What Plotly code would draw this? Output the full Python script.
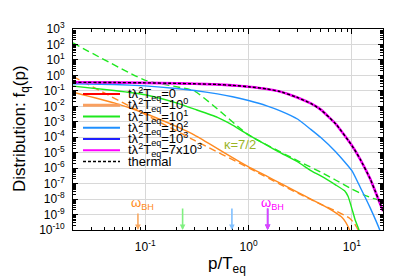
import math
import plotly.graph_objects as go

# ---------------- data ----------------
p_thermal = [0.02, 0.05, 0.1, 0.2, 0.3, 0.5, 0.7, 1, 1.5, 2, 3, 4, 5, 7, 10, 12, 15, 20]
f_thermal = [0.357, 0.345, 0.33, 0.305, 0.285, 0.26, 0.225, 0.185, 0.133, 0.092, 0.0362,
             0.0153, 6.1e-3, 7.1e-4, 2.92e-5, 3.9e-6, 2.1e-7, 1.7e-9]
# t=0, 10^3 and 7x10^3 lie on top of the thermal curve
f_t0 = [0.357, 0.345, 0.33, 0.305, 0.285, 0.26, 0.225, 0.185, 0.133, 0.092, 0.0362,
        0.0153, 6.1e-3, 7.1e-4, 2.92e-5, 3.9e-6, 2.1e-7, 1.7e-9]
f_t1e3 = [0.357, 0.345, 0.33, 0.305, 0.285, 0.26, 0.225, 0.185, 0.133, 0.092, 0.0362,
          0.0153, 6.1e-3, 7.1e-4, 2.92e-5, 3.9e-6, 2.1e-7, 1.7e-9]
f_t7e3 = [0.357, 0.345, 0.33, 0.305, 0.285, 0.26, 0.225, 0.185, 0.133, 0.092, 0.0362,
          0.0153, 6.1e-3, 7.1e-4, 2.92e-5, 3.9e-6, 2.1e-7, 1.7e-9]

p_t1e0 = [0.02, 0.05, 0.1, 0.2, 0.3, 0.5, 0.7, 1, 1.5, 2, 3, 4, 5, 6, 7, 8, 8.7, 9.3, 9.6]
f_t1e0 = [0.0818, 0.0165, 3.42e-3, 4.96e-4, 1.37e-4, 1.85e-5, 4.75e-6, 1.19e-6, 3.05e-7,
          1.10e-7, 2.76e-8, 1.01e-8, 4.75e-9, 2.43e-9, 1.28e-9, 6.7e-10, 3.28e-10, 1.39e-10, 8.4e-11]
p_t1e0_fit = [0.02, 0.1, 0.3, 1, 2, 3, 4, 5, 7, 8.7, 9.5, 10.5, 11.2, 11.7]
f_t1e0_fit = [0.841, 2.97e-3, 6.24e-5, 1.06e-6, 9.3e-8, 2.39e-8, 9.4e-9, 4.62e-9, 1.70e-9,
              8.3e-10, 5.8e-10, 2.84e-10, 1.39e-10, 8.4e-11]

p_t1e1 = [0.02, 0.05, 0.1, 0.2, 0.3, 0.5, 0.7, 1, 1.5, 2, 3, 4, 5, 7, 8.5, 9.2, 10, 10.8, 11.6, 12]
f_t1e1 = [0.201, 0.106, 0.0556, 0.0165, 6.51e-3, 1.93e-3, 6.15e-4, 1.41e-4, 3.05e-5, 1.04e-5,
          2.50e-6, 6.9e-7, 3.14e-7, 8.07e-8, 3.42e-8, 1.45e-8, 2.43e-9, 4.06e-10, 1.2e-10, 5.9e-11]
p_t1e1_fit = [0.02, 0.1, 0.3, 1, 3, 5, 7, 10, 13, 16, 20]
f_t1e1_fit = [125.0, 0.475, 0.0957, 1.41e-4, 3.0e-6, 5.56e-7, 1.65e-7, 4.42e-8, 1.9e-8,
              1.1e-8, 7.3e-9]

p_t1e2 = [0.02, 0.05, 0.1, 0.2, 0.3, 0.5, 0.7, 1, 1.5, 2, 3, 4, 5, 7, 10, 12, 15, 18.6, 19.2]
f_t1e2 = [0.288, 0.257, 0.210, 0.141, 0.106, 0.0642, 0.0418, 0.0236, 0.0107, 5.25e-3, 1.45e-3,
          3.23e-4, 9.57e-5, 1.12e-5, 6.9e-7, 6.07e-8, 2.8e-9, 1e-10, 5e-11]

legend_labels = ["tλ<sup>2</sup>T<sub>eq</sub>=0",
                 "tλ<sup>2</sup>T<sub>eq</sub>=10<sup>0</sup>",
                 "tλ<sup>2</sup>T<sub>eq</sub>=10<sup>1</sup>",
                 "tλ<sup>2</sup>T<sub>eq</sub>=10<sup>2</sup>",
                 "tλ<sup>2</sup>T<sub>eq</sub>=10<sup>3</sup>",
                 "tλ<sup>2</sup>T<sub>eq</sub>=7x10<sup>3</sup>",
                 "thermal"]

omega_bh_p = [0.085, 0.23, 0.69, 1.53, 1.53]
omega_bh_labelled = [True, False, False, False, True]

x_tickvals = [0.1, 1, 10]
x_ticktext = ["10<sup>-1</sup>", "10<sup>0</sup>", "10<sup>1</sup>"]
y_exponents = list(range(3, -11, -1))
y_tickvals = [10.0 ** e for e in y_exponents]
y_ticktext = ["10<sup>%d</sup>" % e for e in y_exponents]

kappa_label = "κ=7/2"
kappa_pos = (0.82, 3.5e-5)

# ---------------- styling ----------------
RED = "#ff0000"
ORANGE = "#ff8a20"
GREEN = "#1ee81e"
LBLUE = "#2090ff"
BLUE = "#2020ff"
MAGENTA = "#ff00ff"
BLACK = "#000000"
FONT = "Liberation Sans"

W, H = 399, 279
# plot area in window pixels: x 65..375, y 13..222
PX0, PX1, PY0, PY1 = 65, 375, 13, 222
ML, MT = PX0, PY0
MR, MB = W - PX1, H - PY1
PW, PH = PX1 - PX0, PY1 - PY0


def xp(px):
    return (px - PX0) / PW


def yp(py):
    return (PY1 - py) / PH


fig = go.Figure()


def add(p, f, color, width, dash="solid"):
    fig.add_trace(go.Scatter(
        x=p, y=f, mode="lines",
        line=dict(color=color, width=width, dash=dash, shape="spline", smoothing=0.4),
        showlegend=False, hoverinfo="skip"))


add(p_thermal, f_t0, RED, 1.5)
add(p_t1e0, f_t1e0, ORANGE, 1.4)
add(p_t1e0_fit, f_t1e0_fit, ORANGE, 1.4, "7px,4px")
add(p_t1e1, f_t1e1, GREEN, 1.4)
add(p_t1e1_fit, f_t1e1_fit, GREEN, 1.4, "7px,4px")
add(p_t1e2, f_t1e2, LBLUE, 1.4)
add(p_thermal, f_t1e3, BLUE, 1.5)
add(p_thermal, f_t7e3, MAGENTA, 2.6)
add(p_thermal, f_thermal, BLACK, 1.4, "3px,2px")

# ---------------- compact legend (rows 11.7 px apart, as in the reference) ----------------
leg_colors = [RED, "#f9a060", GREEN, LBLUE, BLUE, MAGENTA, BLACK]
leg_widths = [2, 3, 2, 2, 2, 2, 1.6]
shapes = []
annotations = []
for i, lab in enumerate(legend_labels):
    py = 80.7 + 11.67 * i
    shapes.append(dict(type="line", xref="paper", yref="paper",
                       x0=xp(75), x1=xp(112), y0=yp(py), y1=yp(py),
                       line=dict(color=leg_colors[i], width=leg_widths[i],
                                 dash="3px,2px" if lab == "thermal" else "solid")))
    annotations.append(dict(xref="paper", yref="paper", x=xp(118), y=yp(py),
                            xanchor="left", yanchor="middle", showarrow=False,
                            text=lab, font=dict(family=FONT, size=13, color="black")))

# omega_BH arrows
arrow_colors = ["#f8a860", "#80f080", "#80c0ff", "#7050ff", "#e040ff"]
arrow_len = [18, 23, 23, 23, 23]
label_colors = [ORANGE, None, None, None, MAGENTA]
for i, pv in enumerate(omega_bh_p):
    annotations.append(dict(x=math.log10(pv), y=-10, xref="x", yref="y", text="",
                            showarrow=True, ax=0, ay=-arrow_len[i], arrowhead=2,
                            arrowsize=0.7, arrowwidth=1.6, arrowcolor=arrow_colors[i],
                            standoff=0))
    if omega_bh_labelled[i]:
        annotations.append(dict(x=math.log10(pv), y=-10, xref="x", yref="y",
                                text="ω<sub>BH</sub>", showarrow=False,
                                xanchor="center", yanchor="middle", xshift=5, yshift=27,
                                font=dict(family=FONT, size=13, color=label_colors[i])))

annotations.append(dict(x=math.log10(kappa_pos[0]), y=math.log10(kappa_pos[1]),
                        xref="x", yref="y", text=kappa_label, showarrow=False,
                        font=dict(family=FONT, size=13, color="#9ab426")))

# axis titles
annotations.append(dict(xref="paper", yref="paper", x=xp(219), y=yp(258),
                        text="p/T<sub>eq</sub>", showarrow=False,
                        xanchor="center", yanchor="middle",
                        font=dict(family=FONT, size=17, color="black")))
annotations.append(dict(xref="paper", yref="paper", x=xp(13), y=yp(116),
                        text="Distribution: f<sub>q</sub>(p)", showarrow=False,
                        textangle=-90, xanchor="center", yanchor="middle",
                        font=dict(family=FONT, size=17, color="black")))

axis_common = dict(type="log", showline=True, linecolor="black", linewidth=1,
                   mirror="allticks", ticks="inside", ticklen=5, tickcolor="black",
                   showgrid=True, gridcolor="#d8d8d8", gridwidth=1,
                   tickfont=dict(family=FONT, size=12, color="black"),
                   tickmode="array",
                   minor=dict(ticks="inside", ticklen=3, tickcolor="black",
                              dtick="D1", showgrid=False))

fig.update_layout(
    width=W, height=H, autosize=False,
    margin=dict(l=ML, r=MR, t=MT, b=MB, pad=0),
    paper_bgcolor="white", plot_bgcolor="white",
    showlegend=False,
    xaxis=dict(axis_common, range=[math.log10(0.02), math.log10(20)],
               tickvals=x_tickvals, ticktext=x_ticktext, ticklabelstandoff=6),
    yaxis=dict(axis_common, range=[-10, 3],
               tickvals=y_tickvals, ticktext=y_ticktext, ticklabelstandoff=5),
    shapes=shapes, annotations=annotations,
    font=dict(family=FONT),
)

fig.write_html("out.html")
